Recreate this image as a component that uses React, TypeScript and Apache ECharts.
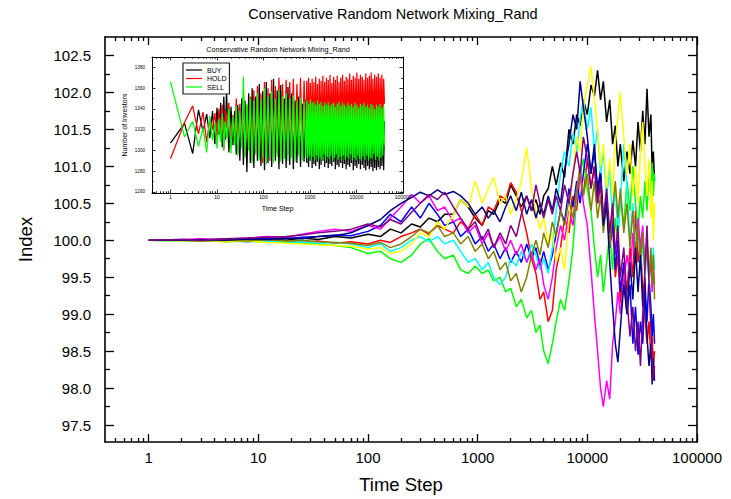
import React, { useEffect, useRef } from 'react';
import * as echarts from 'echarts';

const FONT = 'Liberation Sans, Arial, Helvetica, sans-serif';

const mainTitle = 'Conservative Random Network Mixing_Rand';
const insetTitle = 'Conservative Random Network Mixing_Rand';

// time steps shared by the main-chart runs
const steps = [
  1, 2, 3, 5, 8, 12, 18, 25, 35, 50,
  70, 100, 130, 160, 200, 250, 300, 360, 430, 500,
  600, 700, 820, 950, 1100, 1250, 1400, 1600, 1800, 2000,
  2250, 2500, 2800, 3100, 3400, 3700, 4000, 4400, 4800, 5200,
  5700, 6200, 6800, 7400, 8000, 8600, 9200, 10000, 10800, 11600,
  12400, 13200, 14000, 15000, 16000, 17000, 18000, 19000, 20000, 21500,
  23000, 24500, 26000, 27500, 29000, 30500, 32000, 33500, 35000, 36500,
  38000, 39000, 40000, 41000,
];

const runBlack = [
  100, 100.0, 100.01, 99.99, 100.0, 100.02, 100.0, 100.03, 100.01, 100.05,
  100.03, 100.08, 100.05, 100.15, 100.1, 100.22, 100.18, 100.3, 100.25, 100.35,
  100.35, 100.55, 100.45, 100.3, 100.2, 100.4, 100.35, 100.55, 100.5, 100.75,
  100.6, 100.45, 100.6, 100.4, 100.55, 100.35, 100.6, 100.7, 101.0, 100.75,
  101.05, 100.85, 101.5, 101.3, 101.7, 101.55, 101.9, 101.7, 102.1, 101.95,
  102.3, 101.9, 102.15, 101.6, 101.9, 101.3, 101.55, 101.0, 101.3, 100.8,
  101.2, 100.9, 101.35, 101.0, 101.6, 101.2, 101.75, 101.3, 102.05, 101.4,
  101.7, 100.9, 101.2, 100.8,
];
const runRed = [
  100, 100.0, 99.99, 100.0, 99.98, 100.0, 99.99, 99.97, 99.99, 99.96,
  99.98, 99.95, 100.0, 99.97, 100.05, 100.1, 100.15, 100.08, 100.2, 100.15,
  100.1, 100.25, 100.15, 100.35, 100.2, 100.45, 100.4, 100.6, 100.55, 100.78,
  100.65, 100.4, 100.1, 99.75, 99.55, 99.2, 99.3, 98.9, 99.05, 99.6,
  99.9, 100.3, 100.1, 100.6, 100.4, 100.9, 100.6, 101.1, 100.7, 101.0,
  100.5, 100.75, 100.2, 100.5, 99.9, 100.2, 99.5, 99.8, 99.15, 99.6,
  99.3, 99.9, 99.5, 100.4, 99.7, 100.0, 99.3, 99.0, 98.6, 98.9,
  98.4, 98.7, 98.3, 98.5,
];
const runGreen = [
  100, 99.99, 100.0, 99.98, 99.99, 99.97, 99.98, 99.96, 99.95, 99.93,
  99.9, 99.82, 99.85, 99.75, 99.7, 99.8, 99.95, 100.02, 99.85, 99.75,
  99.8, 99.6, 99.55, 99.65, 99.55, 99.6, 99.45, 99.5, 99.3, 99.35,
  99.1, 99.2, 98.95, 99.05, 98.75, 98.85, 98.5, 98.33, 98.6, 98.9,
  99.2, 99.05, 99.45, 99.9, 100.6, 100.9, 101.1, 100.7, 100.4, 99.9,
  99.5, 99.8, 99.3, 99.7, 100.1, 99.6, 100.3, 100.0, 100.6, 100.2,
  100.8, 100.4, 101.0, 100.5, 100.1, 100.6, 100.3, 100.8, 100.4, 101.0,
  100.5, 101.05, 100.6, 100.9,
];
const runBlue = [
  100, 100.01, 100.0, 100.02, 100.01, 100.03, 100.02, 100.04, 100.05, 100.07,
  100.06, 100.12, 100.2, 100.35, 100.25, 100.45, 100.3, 100.5, 100.35, 100.2,
  100.25, 100.05, 100.15, 99.95, 100.05, 99.85, 99.95, 99.75, 99.9, 99.7,
  99.85, 99.7, 99.95, 99.75, 99.9, 99.65, 99.85, 99.6, 99.8, 100.1,
  100.4, 100.25, 100.7, 100.45, 100.8, 100.5, 100.9, 101.3, 100.9, 101.2,
  100.7, 100.95, 100.3, 100.6, 99.9, 100.3, 99.6, 100.0, 99.3, 99.7,
  99.0, 99.4, 98.6, 99.1, 98.45, 98.9, 98.6, 99.3, 98.9, 99.5,
  99.1, 98.7, 99.0, 98.6,
];
const runCyan = [
  100, 99.99, 100.0, 99.99, 99.98, 99.99, 99.97, 99.98, 99.96, 99.97,
  99.95, 99.9, 99.95, 99.85, 99.9, 100.0, 100.05, 99.98, 100.05, 99.95,
  100.0, 99.85, 99.7, 99.75, 99.6, 99.7, 99.5, 99.4, 99.5, 99.75,
  99.65, 99.85, 99.7, 99.95, 99.8, 99.6, 99.75, 99.55, 99.9, 100.4,
  100.9, 101.2, 101.0, 101.45, 101.2, 101.65, 101.9, 101.5, 101.8, 101.2,
  101.5, 100.9, 101.2, 100.6, 100.95, 100.3, 100.7, 100.1, 100.5, 101.3,
  100.7, 100.0, 100.5, 99.8, 100.3, 99.6, 100.0, 99.5, 99.9, 99.4,
  99.8, 99.5, 99.9, 99.6,
];
const runMagenta = [
  100, 100.01, 100.02, 100.01, 100.03, 100.05, 100.04, 100.08, 100.12, 100.15,
  100.12, 100.2, 100.15, 100.3, 100.45, 100.62, 100.5, 100.6, 100.4, 100.45,
  100.25, 100.3, 100.1, 100.2, 99.95, 100.1, 99.9, 100.05, 99.85, 100.0,
  99.8, 99.95, 99.7, 99.85, 99.6, 99.75, 99.4, 99.2, 99.5, 99.9,
  100.2, 100.0, 100.4, 100.2, 100.65, 100.9, 100.5, 100.2, 99.6, 99.0,
  98.5, 98.0, 97.75, 98.1, 97.85, 98.6, 98.9, 99.3, 99.0, 99.45,
  99.8, 99.5, 100.1, 99.7, 100.3, 99.9, 100.2, 99.6, 100.0, 99.5,
  99.7, 99.3, 99.6, 99.4,
];
const runYellow = [
  100, 99.99, 100.0, 99.98, 99.99, 99.97, 99.96, 99.95, 99.94, 99.93,
  99.92, 99.88, 99.9, 99.82, 99.85, 99.95, 100.1, 100.05, 100.25, 100.15,
  100.35, 100.55, 100.45, 100.8, 100.5, 100.7, 100.85, 100.5, 100.6, 100.35,
  100.55, 100.8, 101.25, 100.7, 100.4, 100.15, 100.3, 99.95, 100.1, 99.7,
  99.9, 99.6, 100.3, 100.9, 101.4, 101.2, 101.8, 102.1, 102.35, 101.9,
  101.5, 101.0, 101.3, 100.7, 101.1, 100.6, 101.3, 101.7, 102.0, 101.4,
  100.9, 101.3, 100.6, 101.0, 100.5, 101.2, 101.6, 101.0, 100.6, 101.1,
  100.3, 100.8, 100.0, 100.5,
];
const runOlive = [
  100, 100.0, 99.99, 100.0, 99.99, 100.01, 99.99, 100.0, 99.98, 99.97,
  99.96, 99.93, 99.97, 99.9, 99.95, 100.05, 100.15, 100.1, 100.2, 100.05,
  100.1, 99.95, 100.05, 99.85, 99.95, 99.75, 99.85, 99.6, 99.7, 99.45,
  99.55, 99.3, 99.5, 99.8, 100.0, 99.8, 100.1, 99.9, 100.25, 100.05,
  100.4, 100.2, 100.55, 100.3, 100.7, 101.0, 100.6, 100.9, 100.4, 100.8,
  100.3, 100.6, 100.1, 100.5, 99.9, 100.4, 100.8, 100.3, 100.7, 100.1,
  100.5, 99.9, 100.4, 99.8, 100.2, 99.7, 100.1, 99.6, 100.0, 99.5,
  99.9, 99.4, 99.8, 99.2,
];
const runNavy = [
  100, 100.0, 100.01, 100.0, 100.02, 100.01, 100.03, 100.02, 100.05, 100.06,
  100.1, 100.2, 100.28, 100.4, 100.5, 100.58, 100.65, 100.6, 100.68, 100.62,
  100.66, 100.6, 100.5, 100.35, 100.45, 100.3, 100.4, 100.25, 100.45, 100.6,
  100.4, 100.65, 100.35, 100.55, 100.3, 100.5, 100.35, 100.6, 100.4, 100.7,
  100.5, 100.95, 101.3, 101.7, 101.5, 102.15, 101.8, 101.4, 100.9, 101.3,
  100.6, 100.9, 100.2, 100.5, 99.7, 99.1, 98.6, 98.35, 98.8, 99.4,
  99.0, 99.7, 99.2, 99.9, 99.3, 99.8, 99.1, 99.5, 98.7, 98.3,
  98.6, 98.05, 98.4, 98.1,
];
const runPurple = [
  100, 100.01, 100.0, 100.02, 100.03, 100.04, 100.05, 100.07, 100.1, 100.12,
  100.15, 100.22, 100.18, 100.28, 100.22, 100.38, 100.5, 100.62, 100.55, 100.65,
  100.45, 100.3, 100.15, 100.25, 100.0, 100.15, 99.9, 100.1, 99.95, 100.2,
  100.05, 100.35, 100.6, 100.4, 100.75, 100.5, 100.3, 100.55, 100.35, 100.6,
  100.4, 100.75, 100.5, 100.9, 101.2, 100.9, 101.4, 101.1, 100.7, 101.0,
  100.5, 100.8, 100.3, 100.7, 100.1, 100.5, 99.8, 100.2, 99.5, 99.9,
  99.2, 98.7, 99.1, 98.5, 98.9, 98.3, 99.0, 99.6, 100.2, 99.4,
  98.8, 98.4, 98.1, 98.3,
];

const runNames = ['Run 1', 'Run 2', 'Run 3', 'Run 4', 'Run 5', 'Run 6', 'Run 7', 'Run 8', 'Run 9', 'Run 10'];
const runColors = ['#000000', '#ff0000', '#00ff00', '#0000ff', '#00ffff', '#ff00ff', '#ffff00', '#808000', '#000080', '#800080'];
const runValues = [runBlack, runRed, runGreen, runBlue, runCyan, runMagenta, runYellow, runOlive, runNavy, runPurple];

// inset: number of investors per decision
const insetSteps = [
  1, 2, 3, 4, 5, 6, 7, 8, 9, 10,
  11, 12, 13, 14, 15, 16, 18, 20, 22, 24,
  26, 28, 31, 34, 37, 40, 44, 48, 52, 57,
  62, 68, 74, 81, 88, 96, 105, 115, 125, 137,
  150, 164, 180, 197, 215, 235, 257, 281, 307, 336,
  367, 401, 438, 479, 523, 572, 625, 683, 746, 815,
  852, 891, 931, 973, 1017, 1063, 1111, 1162, 1214, 1270,
  1327, 1387, 1450, 1516, 1584, 1656, 1730, 1810, 1891, 1977,
  2066, 2160, 2257, 2360, 2466, 2580, 2696, 2820, 2947, 3080,
  3219, 3365, 3516, 3677, 3842, 4017, 4198, 4389, 4586, 4795,
  5011, 5240, 5476, 5725, 5983, 6255, 6537, 6835, 7143, 7468,
  7804, 8160, 8527, 8915, 9316, 9740, 10178, 10640, 11119, 11625,
  12148, 12700, 13272, 13875, 14500, 15160, 15842, 16565, 17311, 18100,
  18915, 19775, 20665, 21605, 22578, 23605, 24667, 25790, 26951, 28180,
  29448, 30790, 32175, 33640, 35154, 36755, 38410, 40000,
];
const buy = [
  1307, 1326, 1297, 1339, 1318, 1335, 1312, 1338, 1306, 1341,
  1315, 1346, 1303, 1352, 1310, 1357, 1298, 1342, 1305, 1338,
  1296, 1344, 1290, 1350, 1286, 1348, 1279, 1355, 1288, 1360,
  1283, 1352, 1290, 1364, 1285, 1357, 1281, 1366, 1288, 1355,
  1284, 1369, 1290, 1358, 1282, 1363, 1287, 1350, 1283, 1361,
  1286, 1355, 1282, 1348, 1288, 1352, 1284, 1345, 1289, 1349,
  1288, 1341, 1284, 1345, 1290, 1338, 1283, 1343, 1287, 1336,
  1285, 1342, 1289, 1339, 1282, 1344, 1286, 1337, 1290, 1341,
  1284, 1335, 1288, 1340, 1283, 1338, 1287, 1343, 1285, 1334,
  1289, 1339, 1282, 1336, 1286, 1341, 1284, 1333, 1288, 1338,
  1283, 1335, 1287, 1340, 1282, 1332, 1286, 1337, 1284, 1334,
  1288, 1339, 1281, 1333, 1285, 1336, 1283, 1331, 1287, 1337,
  1282, 1334, 1286, 1330, 1283, 1336, 1281, 1332, 1285, 1335,
  1282, 1331, 1284, 1334, 1280, 1330, 1283, 1333, 1281, 1329,
  1284, 1332, 1282, 1330, 1285, 1333, 1281, 1328,
];
const hold = [
  1292, 1327, 1343, 1316, 1337, 1308, 1330, 1320, 1336, 1312,
  1340, 1318, 1344, 1300, 1338, 1322, 1346, 1305, 1334, 1316,
  1350, 1298, 1345, 1312, 1355, 1295, 1343, 1305, 1352, 1290,
  1358, 1300, 1362, 1294, 1355, 1288, 1366, 1297, 1360, 1290,
  1368, 1295, 1362, 1298, 1370, 1292, 1364, 1300, 1368, 1296,
  1366, 1302, 1369, 1298, 1364, 1305, 1370, 1300, 1367, 1306,
  1367, 1304, 1370, 1308, 1365, 1302, 1369, 1310, 1366, 1305,
  1371, 1309, 1364, 1306, 1369, 1312, 1367, 1304, 1372, 1311,
  1366, 1308, 1370, 1313, 1368, 1307, 1373, 1310, 1365, 1314,
  1371, 1309, 1368, 1315, 1372, 1311, 1366, 1316, 1370, 1310,
  1373, 1314, 1367, 1312, 1371, 1317, 1369, 1313, 1374, 1315,
  1368, 1318, 1372, 1312, 1370, 1316, 1375, 1314, 1369, 1318,
  1373, 1315, 1371, 1319, 1368, 1316, 1374, 1313, 1370, 1318,
  1372, 1315, 1375, 1319, 1369, 1316, 1373, 1320, 1371, 1317,
  1374, 1318, 1370, 1321, 1373, 1317, 1369, 1345,
];
const sell = [
  1366, 1313, 1328, 1304, 1322, 1298, 1333, 1310, 1327, 1302,
  1330, 1308, 1336, 1301, 1328, 1312, 1340, 1297, 1333, 1305,
  1343, 1295, 1338, 1302, 1371, 1293, 1345, 1300, 1350, 1288,
  1348, 1296, 1355, 1290, 1350, 1293, 1360, 1287, 1352, 1292,
  1357, 1288, 1350, 1294, 1358, 1289, 1352, 1292, 1355, 1290,
  1350, 1293, 1353, 1289, 1348, 1295, 1351, 1290, 1347, 1293,
  1348, 1292, 1345, 1295, 1349, 1290, 1346, 1294, 1347, 1291,
  1344, 1295, 1348, 1290, 1345, 1293, 1347, 1291, 1343, 1296,
  1346, 1290, 1344, 1294, 1347, 1292, 1343, 1295, 1345, 1290,
  1346, 1293, 1342, 1296, 1345, 1291, 1347, 1294, 1343, 1290,
  1346, 1295, 1344, 1291, 1342, 1294, 1346, 1292, 1343, 1296,
  1345, 1290, 1342, 1293, 1346, 1291, 1344, 1295, 1341, 1292,
  1345, 1290, 1343, 1294, 1346, 1291, 1342, 1295, 1344, 1290,
  1341, 1293, 1345, 1292, 1343, 1296, 1340, 1291, 1344, 1294,
  1342, 1290, 1345, 1293, 1341, 1295, 1343, 1305,
];
const insetNames = ['BUY', 'HOLD', 'SELL'];
const insetColors = ['#000000', '#ff0000', '#00ff00'];
const insetValues = [buy, hold, sell];

// tick positions
const xMajorTicks = [1, 10, 100, 1000, 10000, 100000];
const xMinorTicks = [
  0.5, 0.6, 0.7, 0.8, 0.9,
  2, 3, 4, 5, 6, 7, 8, 9,
  20, 30, 40, 50, 60, 70, 80, 90,
  200, 300, 400, 500, 600, 700, 800, 900,
  2000, 3000, 4000, 5000, 6000, 7000, 8000, 9000,
  20000, 30000, 40000, 50000, 60000, 70000, 80000, 90000,
];
const yMajorTicks = [97.5, 98.0, 98.5, 99.0, 99.5, 100.0, 100.5, 101.0, 101.5, 102.0, 102.5];
const yMinorTicks = [97.75, 98.25, 98.75, 99.25, 99.75, 100.25, 100.75, 101.25, 101.75, 102.25];
const insetYMajorTicks = [1260, 1280, 1300, 1320, 1340, 1360, 1380];
const insetYMinorTicks = [1270, 1290, 1310, 1330, 1350, 1370];

function xAxisDef(grid: number, pos: string, ticks: number[], len: number, line: boolean, extra: any = {}) {
  const inset = grid === 1;
  return {
    type: 'log',
    logBase: 10,
    gridIndex: grid,
    position: pos,
    min: 0.4,
    max: 100000,
    z: inset ? 8 : 0,
    axisLine: line ? { show: true, onZero: false, lineStyle: { color: '#000', width: inset ? 1 : 1.6 } } : { show: false },
    axisTick: { show: true, inside: true, length: len, customValues: ticks, lineStyle: { color: '#000', width: inset ? 0.8 : 1.3 } },
    axisLabel: { show: false },
    splitLine: { show: false },
    minorTick: { show: false },
    ...extra,
  };
}

function yAxisDef(grid: number, pos: string, ticks: number[], len: number, line: boolean, extra: any = {}) {
  const inset = grid === 1;
  return {
    type: 'value',
    gridIndex: grid,
    position: pos,
    min: inset ? 1259 : 97.27,
    max: inset ? 1390 : 102.75,
    z: inset ? 8 : 0,
    axisLine: line ? { show: true, onZero: false, lineStyle: { color: '#000', width: inset ? 1 : 1.6 } } : { show: false },
    axisTick: { show: true, inside: true, length: len, customValues: ticks, lineStyle: { color: '#000', width: inset ? 0.8 : 1.3 } },
    axisLabel: { show: false },
    splitLine: { show: false },
    minorTick: { show: false },
    ...extra,
  };
}

export default function App() {
  const ref = useRef<HTMLDivElement>(null);

  useEffect(() => {
    document.body.style.margin = '0';
    if (!ref.current) return;
    const chart = echarts.init(ref.current, undefined, { renderer: 'svg' });

    const mainSeries = runValues.map((vals, k) => ({
      name: runNames[k],
      type: 'line',
      xAxisIndex: 0,
      yAxisIndex: 0,
      data: steps.map((t, i) => [t, vals[i]]),
      showSymbol: false,
      symbol: 'none',
      lineStyle: { color: runColors[k], width: 1.5 },
      itemStyle: { color: runColors[k] },
      z: 2,
    }));

    const insetSeries = insetValues.map((vals, k) => ({
      name: insetNames[k],
      type: 'line',
      xAxisIndex: 4,
      yAxisIndex: 4,
      data: insetSteps.map((t, i) => [t, vals[i]]),
      showSymbol: false,
      symbol: 'none',
      lineStyle: { color: insetColors[k], width: 1.25 },
      itemStyle: { color: insetColors[k] },
      z: 7,
    }));

    const option: any = {
      animation: false,
      backgroundColor: '#ffffff',
      textStyle: { fontFamily: FONT },
      graphic: [
        {
          type: 'text', x: 393, y: 14, z: 10,
          style: { text: mainTitle, fontSize: 14.5, fontFamily: FONT, fill: '#000', textAlign: 'center', textVerticalAlign: 'middle' },
        },
        {
          type: 'text', x: 278, y: 49, z: 10,
          style: { text: insetTitle, fontSize: 7.2, fontFamily: FONT, fill: '#000', textAlign: 'center', textVerticalAlign: 'middle' },
        },
      ],
      legend: {
        data: insetNames,
        orient: 'vertical',
        left: 183,
        top: 63,
        padding: [3, 3, 3, 3],
        itemGap: 0.5,
        itemWidth: 16,
        itemHeight: 1.2,
        icon: 'rect',
        borderColor: '#222',
        borderWidth: 1.2,
        backgroundColor: '#fff',
        z: 12,
        textStyle: { fontSize: 7, fontFamily: FONT, color: '#000', lineHeight: 8 },
      },
      grid: [
        { left: 105, right: 34, top: 37, bottom: 55, show: false },
        { left: 152, top: 57, width: 251, height: 136, show: true, backgroundColor: '#ffffff', borderWidth: 0, z: 5 },
      ],
      xAxis: [
        xAxisDef(0, 'bottom', xMajorTicks, 8, true, {
          axisLabel: {
            show: true, customValues: xMajorTicks, fontSize: 15, color: '#000', margin: 8, fontFamily: FONT,
            formatter: (v: number) => String(Math.round(v)),
          },
          name: 'Time Step', nameLocation: 'middle', nameGap: 33,
          nameTextStyle: { fontSize: 18.5, color: '#000', fontFamily: FONT },
        }),
        xAxisDef(0, 'bottom', xMinorTicks, 4, false),
        xAxisDef(0, 'top', xMajorTicks, 8, true),
        xAxisDef(0, 'top', xMinorTicks, 4, false),
        xAxisDef(1, 'bottom', xMajorTicks, 3.5, true, {
          axisLabel: {
            show: true, customValues: xMajorTicks, fontSize: 5, color: '#000', margin: 1.5, fontFamily: FONT,
            formatter: (v: number) => String(Math.round(v)),
          },
          name: 'Time Step', nameLocation: 'middle', nameGap: 12,
          nameTextStyle: { fontSize: 7, color: '#000', fontFamily: FONT },
        }),
        xAxisDef(1, 'bottom', xMinorTicks, 1.8, false),
        xAxisDef(1, 'top', xMajorTicks, 3.5, true),
        xAxisDef(1, 'top', xMinorTicks, 1.8, false),
      ],
      yAxis: [
        yAxisDef(0, 'left', yMajorTicks, 9, true, {
          axisLabel: {
            show: true, customValues: yMajorTicks, fontSize: 15, color: '#000', margin: 14, fontFamily: FONT,
            formatter: (v: number) => v.toFixed(1),
          },
          name: 'Index', nameLocation: 'middle', nameGap: 70,
          nameTextStyle: { fontSize: 18.5, color: '#000', fontFamily: FONT },
        }),
        yAxisDef(0, 'left', yMinorTicks, 5, false),
        yAxisDef(0, 'right', yMajorTicks, 9, true),
        yAxisDef(0, 'right', yMinorTicks, 5, false),
        yAxisDef(1, 'left', insetYMajorTicks, 3.5, true, {
          axisLabel: {
            show: true, customValues: insetYMajorTicks, fontSize: 4.6, color: '#000', margin: 7, fontFamily: FONT,
            formatter: (v: number) => String(Math.round(v)),
          },
          name: 'Number of Investors', nameLocation: 'middle', nameGap: 24,
          nameTextStyle: { fontSize: 7, color: '#000', fontFamily: FONT },
        }),
        yAxisDef(1, 'left', insetYMinorTicks, 1.8, false),
        yAxisDef(1, 'right', insetYMajorTicks, 3.5, true),
        yAxisDef(1, 'right', insetYMinorTicks, 1.8, false),
      ],
      series: [...mainSeries, ...insetSeries],
    };

    chart.setOption(option);
    return () => chart.dispose();
  }, []);

  return <div ref={ref} style={{ width: 731, height: 499 }} />;
}
